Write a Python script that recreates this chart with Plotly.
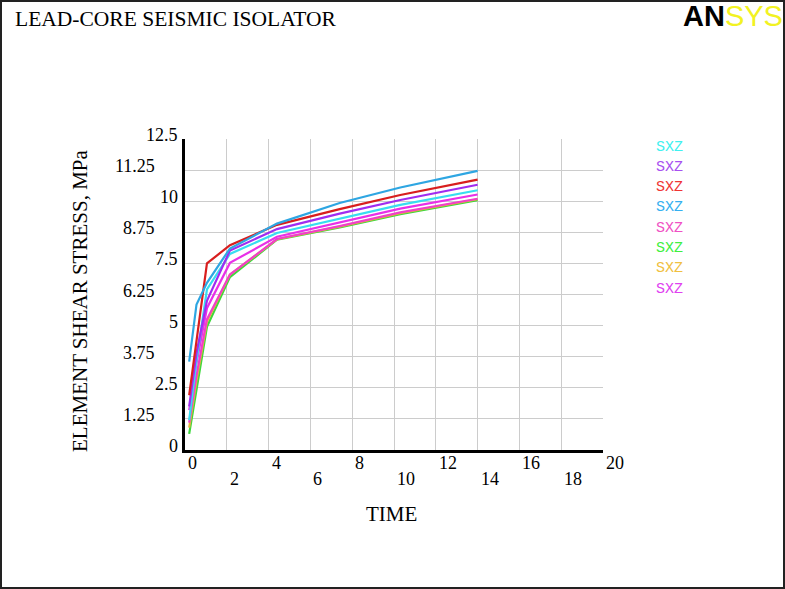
import plotly.graph_objects as go

# ---------------- data ----------------
time = [0.2, 0.55, 1.05, 2.15, 4.4, 7.4, 10.3, 14.0]

sxz_cyan = [1.2, 3.6, 6.45, 7.88, 8.72, 9.3, 9.85, 10.44]
sxz_purple = [1.75, 3.9, 6.0, 8.02, 8.88, 9.5, 10.05, 10.66]
sxz_red = [2.2, 4.4, 7.5, 8.23, 9.05, 9.68, 10.25, 10.87]
sxz_sky = [3.55, 5.85, 6.72, 8.1, 9.1, 9.93, 10.55, 11.22]
sxz_pink = [1.1, 3.0, 5.25, 7.05, 8.48, 9.0, 9.55, 10.1]
sxz_green = [0.65, 2.5, 4.95, 6.95, 8.45, 8.95, 9.48, 10.04]
sxz_orange = [0.9, 2.8, 5.15, 7.05, 8.47, 8.98, 9.52, 10.08]
sxz_magenta = [1.6, 3.5, 5.7, 7.52, 8.57, 9.15, 9.7, 10.27]

series_values = [sxz_cyan, sxz_purple, sxz_red, sxz_sky,
                 sxz_pink, sxz_green, sxz_orange, sxz_magenta]
series_names = ["SXZ", "SXZ", "SXZ", "SXZ", "SXZ", "SXZ", "SXZ", "SXZ"]
line_colors = ["#38DDF0", "#A02CF0", "#D81E1E", "#2EA6E2",
               "#F040C8", "#3CD83C", "#E8B43C", "#E830E8"]
label_colors = ["#40F0F0", "#A850F0", "#F03434", "#34B0F0",
                "#F050C4", "#40F040", "#F0C040", "#E040F0"]

x_tick_vals = [0, 2, 4, 6, 8, 10, 12, 14, 16, 18, 20]
x_tick_text = ["0", "2", "4", "6", "8", "10", "12", "14", "16", "18", "20"]
y_tick_vals = [0, 1.25, 2.5, 3.75, 5, 6.25, 7.5, 8.75, 10, 11.25, 12.5]
y_tick_text = ["0", "1.25", "2.5", "3.75", "5", "6.25", "7.5", "8.75", "10", "11.25", "12.5"]

title_text = "LEAD-CORE SEISMIC ISOLATOR"
x_title = "TIME"
y_title = "ELEMENT SHEAR STRESS, MPa"

# ---------------- layout geometry ----------------
W, H = 785, 589
L, R, T, B = 185, 182, 139, 139
PW, PH = W - L - R, H - T - B

def px2x(px):
    return (px - L) / PW

def py2y(py):
    return (H - B - py) / PH

SERIF = "Liberation Serif, Times New Roman, serif"
MONO = "Liberation Mono, Courier New, monospace"
SANS = "Liberation Sans, Arial, sans-serif"

fig = go.Figure()

draw_order = [5, 6, 4, 7, 0, 1, 2, 3]
for i in draw_order:
    fig.add_trace(go.Scatter(
        x=time, y=series_values[i], mode="lines", name=series_names[i],
        line=dict(color=line_colors[i], width=2.2),
        showlegend=False,
    ))

annotations = []

# x tick labels (staggered)
for k, (v, t) in enumerate(zip(x_tick_vals, x_tick_text)):
    annotations.append(dict(
        x=v, y=0, xref="x", yref="paper", text=t, showarrow=False,
        xanchor="left", yanchor="top", xshift=1,
        yshift=-1 if k % 2 == 0 else -17,
        font=dict(family=SERIF, size=18, color="black"),
    ))

# y tick labels (staggered)
for k, (v, t) in enumerate(zip(y_tick_vals, y_tick_text)):
    annotations.append(dict(
        x=px2x(180 if k % 2 == 0 else 157), y=v, xref="paper", yref="y",
        text=t, showarrow=False, xanchor="right", yanchor="middle", yshift=4,
        font=dict(family=SERIF, size=18, color="black"),
    ))

# legend labels
for k, (name, col) in enumerate(zip(series_names, label_colors)):
    annotations.append(dict(
        x=px2x(654), y=py2y(147 + 20.3 * k), xref="paper", yref="paper",
        text=name, showarrow=False, xanchor="left", yanchor="middle",
        font=dict(family=MONO, size=15, color=col),
    ))

# titles
annotations.append(dict(
    x=px2x(13), y=py2y(19), xref="paper", yref="paper", text=title_text,
    showarrow=False, xanchor="left", yanchor="middle",
    font=dict(family=SERIF, size=21.5, color="black"),
))
annotations.append(dict(
    x=px2x(391), y=py2y(514), xref="paper", yref="paper", text=x_title,
    showarrow=False, xanchor="center", yanchor="middle",
    font=dict(family=SERIF, size=21, color="black"),
))
annotations.append(dict(
    x=px2x(80), y=py2y(301), xref="paper", yref="paper", text=y_title,
    showarrow=False, xanchor="center", yanchor="middle", textangle=-90,
    font=dict(family=SERIF, size=21, color="black"),
))
# ANSYS logo
annotations.append(dict(
    x=px2x(681), y=py2y(16), xref="paper", yref="paper",
    text="<b>AN</b><span style='color:#F2F222'>SYS</span>",
    showarrow=False, xanchor="left", yanchor="middle",
    font=dict(family=SANS, size=29, color="black"),
))

shapes = [dict(
    type="rect", xref="paper", yref="paper",
    x0=px2x(1), x1=px2x(784), y0=py2y(588), y1=py2y(1),
    line=dict(color="#222222", width=2), fillcolor="rgba(0,0,0,0)",
)]

fig.update_layout(
    width=W, height=H,
    margin=dict(l=L, r=R, t=T, b=B, pad=0),
    paper_bgcolor="white", plot_bgcolor="white",
    showlegend=False,
    annotations=annotations, shapes=shapes,
    xaxis=dict(range=[0, 20], tickvals=x_tick_vals, showticklabels=False,
               showgrid=True, gridcolor="#CCCCCC", gridwidth=1,
               showline=True, linecolor="black", linewidth=3,
               zeroline=False, ticks="", fixedrange=True),
    yaxis=dict(range=[0, 12.5], tickvals=y_tick_vals, showticklabels=False,
               showgrid=True, gridcolor="#CCCCCC", gridwidth=1,
               showline=True, linecolor="black", linewidth=3,
               zeroline=False, ticks="", fixedrange=True),
)

fig.write_html(
    "out.html",
    config={"displayModeBar": False},
    post_script="document.body.style.margin='0';document.body.style.overflow='hidden';",
)
